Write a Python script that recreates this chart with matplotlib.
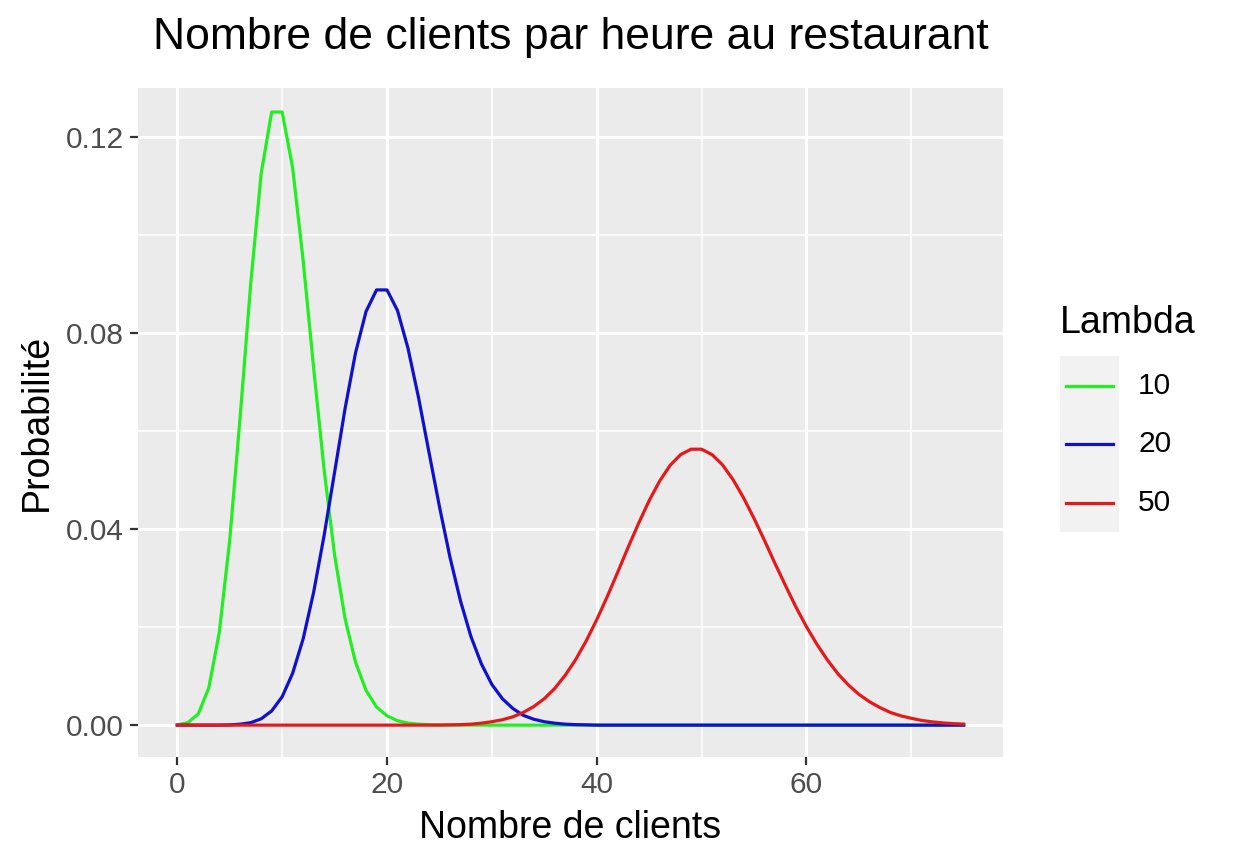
"""
Loi de Poisson : nombre de clients par heure au restaurant (style ggplot).
"""
import matplotlib
matplotlib.use("Agg")
import matplotlib.pyplot as plt
from matplotlib.lines import Line2D
from matplotlib.patches import Rectangle

plt.rcParams["font.family"] = ["Liberation Sans", "DejaVu Sans"]

# nombre de clients (0..75)
clients = list(range(76))

# probabilités (lambda = 10)
prob_10 = [
    0.00005, 0.0005, 0.0023, 0.0076, 0.0189, 0.0378, 0.0631, 0.0901, 0.1126, 0.1251,
    0.1251, 0.1137, 0.0948, 0.0729, 0.0521, 0.0347, 0.0217, 0.0128, 0.0071, 0.0037,
    0.0019, 0.0009, 0.0004, 0.0002, 0.0001, 0.0, 0.0, 0.0, 0.0, 0.0,
    0.0, 0.0, 0.0, 0.0, 0.0, 0.0, 0.0, 0.0, 0.0, 0.0,
    0.0, 0.0, 0.0, 0.0, 0.0, 0.0, 0.0, 0.0, 0.0, 0.0,
    0.0, 0.0, 0.0, 0.0, 0.0, 0.0, 0.0, 0.0, 0.0, 0.0,
    0.0, 0.0, 0.0, 0.0, 0.0, 0.0, 0.0, 0.0, 0.0, 0.0,
    0.0, 0.0, 0.0, 0.0, 0.0, 0.0,
]

# lambda = 20
prob_20 = [
    0.0, 0.0, 0.0, 0.0, 0.00001, 0.00005, 0.0002, 0.0005, 0.0013, 0.0029,
    0.0058, 0.0106, 0.0176, 0.0271, 0.0387, 0.0516, 0.0646, 0.0760, 0.0844, 0.0888,
    0.0888, 0.0846, 0.0769, 0.0669, 0.0557, 0.0446, 0.0343, 0.0254, 0.0181, 0.0125,
    0.0083, 0.0054, 0.0034, 0.0020, 0.0012, 0.0007, 0.0004, 0.0002, 0.0001, 0.00006,
    0.0, 0.0, 0.0, 0.0, 0.0, 0.0, 0.0, 0.0, 0.0, 0.0,
    0.0, 0.0, 0.0, 0.0, 0.0, 0.0, 0.0, 0.0, 0.0, 0.0,
    0.0, 0.0, 0.0, 0.0, 0.0, 0.0, 0.0, 0.0, 0.0, 0.0,
    0.0, 0.0, 0.0, 0.0, 0.0, 0.0,
]

# lambda = 50
prob_50 = [
    0.0, 0.0, 0.0, 0.0, 0.0, 0.0, 0.0, 0.0, 0.0, 0.0,
    0.0, 0.0, 0.0, 0.0, 0.0, 0.0, 0.0, 0.0, 0.0, 0.0,
    0.0, 0.0, 0.0, 0.0, 0.0, 0.00003, 0.00006, 0.0001, 0.0002, 0.0004,
    0.0007, 0.0011, 0.0017, 0.0026, 0.0038, 0.0054, 0.0075, 0.0102, 0.0134, 0.0172,
    0.0215, 0.0262, 0.0312, 0.0363, 0.0412, 0.0458, 0.0498, 0.0530, 0.0552, 0.0563,
    0.0563, 0.0552, 0.0531, 0.0501, 0.0464, 0.0422, 0.0377, 0.0330, 0.0285, 0.0241,
    0.0201, 0.0165, 0.0133, 0.0105, 0.0082, 0.0063, 0.0048, 0.0036, 0.0026, 0.0019,
    0.0014, 0.00096, 0.00067, 0.00046, 0.00031, 0.00021,
]

LAMBDAS = ["10", "20", "50"]
COLORS = ["#22EE22", "#1111CC", "#E31A1C"]

x_ticks = [0, 20, 40, 60]
y_ticks = [0.00, 0.04, 0.08, 0.12]

PANEL_BG = "#EBEBEB"
TICK_COLOR = "#4D4D4D"

fig = plt.figure(figsize=(12.34, 8.64), dpi=100)
ax = fig.add_axes([138 / 1234, 1 - 757 / 864, (1003 - 138) / 1234, (757 - 88) / 864])
ax.set_facecolor(PANEL_BG)

# grille façon ggplot
for xv in [10, 30, 50, 70]:
    ax.axvline(xv, color="white", lw=1.1, zorder=0)
for yv in [0.02, 0.06, 0.10]:
    ax.axhline(yv, color="white", lw=1.1, zorder=0)
for xv in x_ticks:
    ax.axvline(xv, color="white", lw=2.2, zorder=0)
for yv in y_ticks:
    ax.axhline(yv, color="white", lw=2.2, zorder=0)

for series, color in zip([prob_10, prob_20, prob_50], COLORS):
    ax.plot(clients, series, color=color, lw=2.3, zorder=2, solid_joinstyle="round")

ax.set_xlim(-3.75, 78.75)
ax.set_ylim(-0.0065, 0.1300)
ax.set_xticks(x_ticks)
ax.set_xticklabels([str(v) for v in x_ticks])
ax.set_yticks(y_ticks)
ax.set_yticklabels([f"{v:.2f}" for v in y_ticks])
ax.tick_params(axis="both", length=6, width=1.6, color="#333333",
               labelcolor=TICK_COLOR, labelsize=21.5, pad=4)
for spine in ax.spines.values():
    spine.set_visible(False)

ax.set_xlabel("Nombre de clients", fontsize=27, labelpad=8)
ax.set_ylabel("Probabilité", fontsize=27, labelpad=8)
fig.text(571 / 1234, 1 - 38 / 864, "Nombre de clients par heure au restaurant",
         fontsize=32, ha="center", va="center")

# légende manuelle
fig.text(1060 / 1234, 1 - 323 / 864, "Lambda", fontsize=27, ha="left", va="center")
fig.patches.append(Rectangle((1060 / 1234, 1 - 532 / 864), 59 / 1234, 176 / 864,
                             transform=fig.transFigure, facecolor="#F2F2F2",
                             edgecolor="none"))
for label, color, yp in zip(LAMBDAS, COLORS, [386, 444, 503]):
    yf = 1 - yp / 864
    fig.lines.append(Line2D([1066 / 1234, 1113 / 1234], [yf, yf], transform=fig.transFigure,
                            color=color, lw=2.3))
    fig.text(1138 / 1234, yf, label, fontsize=21.5, ha="left", va="center")

fig.savefig("out.png", dpi=100, facecolor="white")
